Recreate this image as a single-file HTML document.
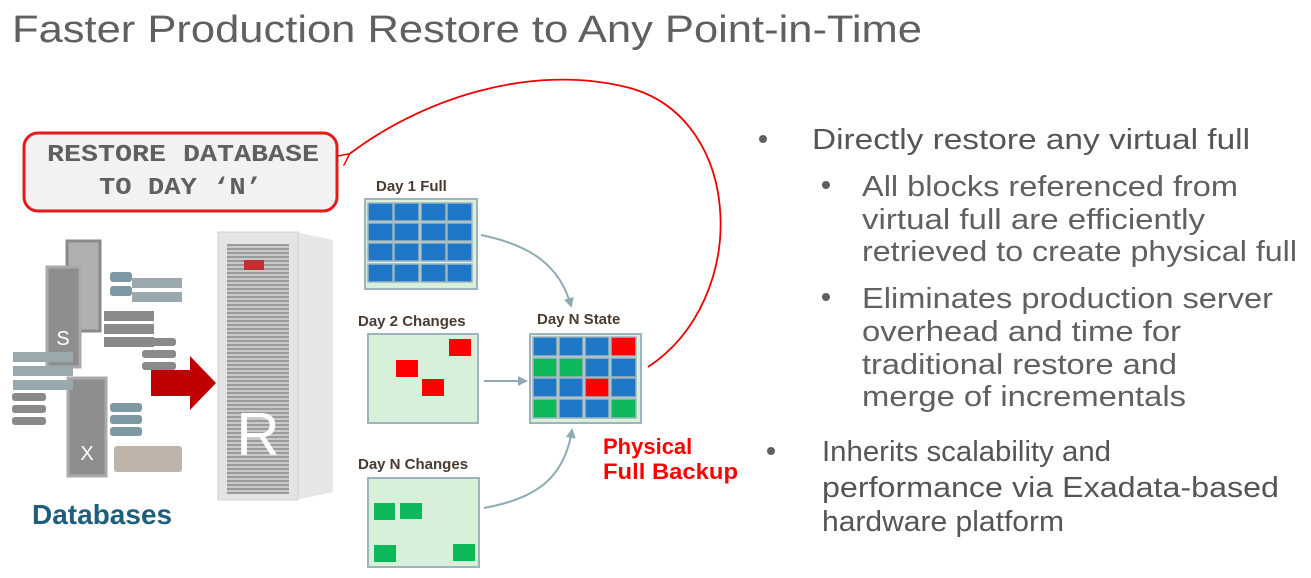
<!DOCTYPE html>
<html><head><meta charset="utf-8"><style>
html,body{margin:0;padding:0;background:#fff;}
svg{display:block;}
</style></head><body>
<svg width="1311" height="578" viewBox="0 0 1311 578" xmlns="http://www.w3.org/2000/svg" font-family="Liberation Sans, sans-serif">
<defs>
<marker id="ag" markerWidth="10" markerHeight="10" refX="8" refY="5" orient="auto" markerUnits="userSpaceOnUse"><path d="M0,0 L10,5 L0,10 Z" fill="#8eaab3"/></marker>
<marker id="ar" markerWidth="12" markerHeight="12" refX="2" refY="6" orient="auto" markerUnits="userSpaceOnUse"><path d="M12,0 L0,6 L12,12" fill="none" stroke="#e00" stroke-width="1.5"/></marker>
<pattern id="grill" width="6" height="4" patternUnits="userSpaceOnUse"><rect width="6" height="4" fill="#c9c9c9"/><rect width="6" height="2" fill="#9a9a9a"/></pattern>
</defs>

<text x="12" y="42" font-size="38" fill="#606060" textLength="910" lengthAdjust="spacingAndGlyphs">Faster Production Restore to Any Point-in-Time</text>

<!-- restore box -->
<rect x="24" y="133" width="313" height="78" rx="14" fill="#f2f2f2" stroke="#e31b1b" stroke-width="3"/>
<text x="47" y="161" font-family="Liberation Mono, monospace" font-weight="bold" font-size="24" fill="#606060" textLength="272" lengthAdjust="spacingAndGlyphs">RESTORE DATABASE</text>
<text x="99" y="194" font-family="Liberation Mono, monospace" font-weight="bold" font-size="24" fill="#606060" textLength="163" lengthAdjust="spacingAndGlyphs">TO DAY ‘N’</text>

<!-- red arc -->
<path d="M648,367 C750,300 745,120 630,88 C530,62 420,100 348,155" fill="none" stroke="#e00" stroke-width="1.8" marker-end="url(#ar)"/>

<!-- servers (databases) -->
<g fill="#8a8a8a">
<rect x="67" y="241" width="33" height="90" fill="#b0b0b0" stroke="#8a8a8a" stroke-width="3"/>
<rect x="47" y="267" width="33" height="100" fill="#8e8e8e" stroke="#aaa" stroke-width="3"/>
<text x="63" y="345" font-size="20" fill="#fff" text-anchor="middle">S</text>
<rect x="68" y="378" width="38" height="98" fill="#8e8e8e" stroke="#aaa" stroke-width="3"/>
<text x="87" y="460" font-size="20" fill="#fff" text-anchor="middle">X</text>
<rect x="110" y="272" width="22" height="10" rx="3" fill="#7e99a4"/>
<rect x="110" y="286" width="22" height="10" rx="3" fill="#7e99a4"/>
<rect x="132" y="278" width="50" height="10" fill="#9aa9ae"/>
<rect x="132" y="292" width="50" height="10" fill="#9aa9ae"/>
<rect x="104" y="311" width="50" height="10" fill="#8a8a8a"/>
<rect x="104" y="324" width="50" height="10" fill="#8a8a8a"/>
<rect x="104" y="337" width="50" height="10" fill="#8a8a8a"/>
<rect x="142" y="338" width="34" height="8" rx="3" fill="#8a8a8a"/>
<rect x="142" y="350" width="34" height="8" rx="3" fill="#8a8a8a"/>
<rect x="142" y="362" width="34" height="8" rx="3" fill="#8a8a8a"/>
<rect x="13" y="352" width="60" height="10" fill="#9aa9ae"/>
<rect x="13" y="366" width="60" height="10" fill="#9aa9ae"/>
<rect x="13" y="380" width="60" height="10" fill="#9aa9ae"/>
<rect x="12" y="393" width="34" height="8" rx="3" fill="#8a8a8a"/>
<rect x="12" y="405" width="34" height="8" rx="3" fill="#8a8a8a"/>
<rect x="12" y="417" width="34" height="8" rx="3" fill="#8a8a8a"/>
<rect x="110" y="403" width="32" height="9" rx="3" fill="#7e99a4"/>
<rect x="110" y="415" width="32" height="9" rx="3" fill="#7e99a4"/>
<rect x="110" y="427" width="32" height="9" rx="3" fill="#7e99a4"/>
<rect x="114" y="446" width="68" height="26" rx="3" fill="#bdb3a8"/>
</g>
<text x="32" y="524" font-size="28" font-weight="bold" fill="#1c5e7e">Databases</text>

<!-- red arrow -->
<path d="M151,370 L190,370 L190,356 L216,383 L190,410 L190,396 L151,396 Z" fill="#c00000"/>

<!-- rack -->
<path d="M296,232 L333,240 L333,492 L296,500 Z" fill="#e6e6e6"/>
<rect x="218" y="232" width="80" height="268" fill="#e4e4e4" stroke="#cfcfcf"/>
<rect x="227" y="244" width="62" height="250" fill="url(#grill)"/>
<rect x="244" y="260" width="20" height="10" fill="#c03030"/>
<text x="258" y="455" font-size="60" fill="#fff" text-anchor="middle">R</text>

<!-- Day 1 Full -->
<text x="376" y="191" font-size="15" font-weight="bold" fill="#4a3a30">Day 1 Full</text>
<rect x="365" y="199" width="112" height="90" fill="#d8efd9" stroke="#9db4be" stroke-width="2"/>
<g fill="#1f77c8" stroke="#9db4be" stroke-width="1.5">
<rect x="368" y="203" width="25" height="18"/><rect x="394" y="203" width="25" height="18"/><rect x="421" y="203" width="25" height="18"/><rect x="447" y="203" width="25" height="18"/>
<rect x="368" y="223" width="25" height="18"/><rect x="394" y="223" width="25" height="18"/><rect x="421" y="223" width="25" height="18"/><rect x="447" y="223" width="25" height="18"/>
<rect x="368" y="243" width="25" height="18"/><rect x="394" y="243" width="25" height="18"/><rect x="421" y="243" width="25" height="18"/><rect x="447" y="243" width="25" height="18"/>
<rect x="368" y="264" width="25" height="18"/><rect x="394" y="264" width="25" height="18"/><rect x="421" y="264" width="25" height="18"/><rect x="447" y="264" width="25" height="18"/>
</g>

<!-- Day 2 -->
<text x="358" y="326" font-size="15" font-weight="bold" fill="#4a3a30">Day 2 Changes</text>
<rect x="368" y="334" width="110" height="89" fill="#d8efd9" stroke="#9db4be" stroke-width="2"/>
<g fill="#f00"><rect x="449" y="339" width="22" height="17"/><rect x="396" y="360" width="22" height="17"/><rect x="422" y="379" width="22" height="17"/></g>

<!-- Day N changes -->
<text x="358" y="469" font-size="15" font-weight="bold" fill="#4a3a30">Day N Changes</text>
<rect x="368" y="478" width="111" height="89" fill="#d8efd9" stroke="#9db4be" stroke-width="2"/>
<g fill="#0db85a"><rect x="374" y="503" width="21" height="17"/><rect x="400" y="503" width="22" height="16"/><rect x="374" y="545" width="22" height="17"/><rect x="453" y="544" width="22" height="17"/></g>

<!-- Day N State -->
<text x="537" y="324" font-size="15" font-weight="bold" fill="#4a3a30">Day N State</text>
<rect x="530" y="334" width="111" height="89" fill="#d8efd9" stroke="#9db4be" stroke-width="2"/>
<g stroke="#9db4be" stroke-width="1.5">
<rect x="533" y="337" width="24" height="19" fill="#1f77c8"/><rect x="559" y="337" width="24" height="19" fill="#1f77c8"/><rect x="585" y="337" width="24" height="19" fill="#1f77c8"/><rect x="611" y="337" width="25" height="19" fill="#f00"/>
<rect x="533" y="358" width="24" height="19" fill="#0db85a"/><rect x="559" y="358" width="24" height="19" fill="#0db85a"/><rect x="585" y="358" width="24" height="19" fill="#1f77c8"/><rect x="611" y="358" width="25" height="19" fill="#1f77c8"/>
<rect x="533" y="378" width="24" height="19" fill="#1f77c8"/><rect x="559" y="378" width="24" height="19" fill="#1f77c8"/><rect x="585" y="378" width="24" height="19" fill="#f00"/><rect x="611" y="378" width="25" height="19" fill="#1f77c8"/>
<rect x="533" y="399" width="24" height="19" fill="#0db85a"/><rect x="559" y="399" width="24" height="19" fill="#1f77c8"/><rect x="585" y="399" width="24" height="19" fill="#1f77c8"/><rect x="611" y="399" width="25" height="19" fill="#0db85a"/>
</g>

<!-- gray arrows -->
<g fill="none" stroke="#8eaab3" stroke-width="2">
<path d="M481,235 C530,245 560,265 571,306" marker-end="url(#ag)"/>
<path d="M484,381 L526,381" marker-end="url(#ag)"/>
<path d="M484,508 C540,498 565,475 572,430" marker-end="url(#ag)"/>
</g>

<text x="603" y="454" font-size="22" font-weight="bold" fill="#f00">Physical</text>
<text x="603" y="479" font-size="22" font-weight="bold" fill="#f00" textLength="135" lengthAdjust="spacingAndGlyphs">Full Backup</text>

<!-- bullets -->
<g fill="#606060">
<circle cx="763" cy="139" r="4"/>
<circle cx="826" cy="185" r="4"/>
<circle cx="826" cy="297" r="4"/>
<circle cx="771" cy="451" r="4"/>
</g>
<g fill="#606060" font-size="29">
<text x="812" y="149" textLength="438" lengthAdjust="spacingAndGlyphs" fill="#555">Directly restore any virtual full</text>
<text x="862" y="196" textLength="376" lengthAdjust="spacingAndGlyphs">All blocks referenced from</text>
<text x="862" y="229" textLength="343" lengthAdjust="spacingAndGlyphs">virtual full are efficiently</text>
<text x="862" y="261" textLength="435" lengthAdjust="spacingAndGlyphs">retrieved to create physical full</text>
<text x="862" y="308" textLength="411" lengthAdjust="spacingAndGlyphs">Eliminates production server</text>
<text x="862" y="341" textLength="319" lengthAdjust="spacingAndGlyphs">overhead and time for</text>
<text x="862" y="374" textLength="315" lengthAdjust="spacingAndGlyphs">traditional restore and</text>
<text x="862" y="406" textLength="324" lengthAdjust="spacingAndGlyphs">merge of incrementals</text>
<text x="822" y="461" textLength="289" lengthAdjust="spacingAndGlyphs" fill="#555">Inherits scalability and</text>
<text x="822" y="497" textLength="457" lengthAdjust="spacingAndGlyphs" fill="#555">performance via Exadata-based</text>
<text x="822" y="531" textLength="242" lengthAdjust="spacingAndGlyphs" fill="#555">hardware platform</text>
</g>
</svg>
</body></html>
